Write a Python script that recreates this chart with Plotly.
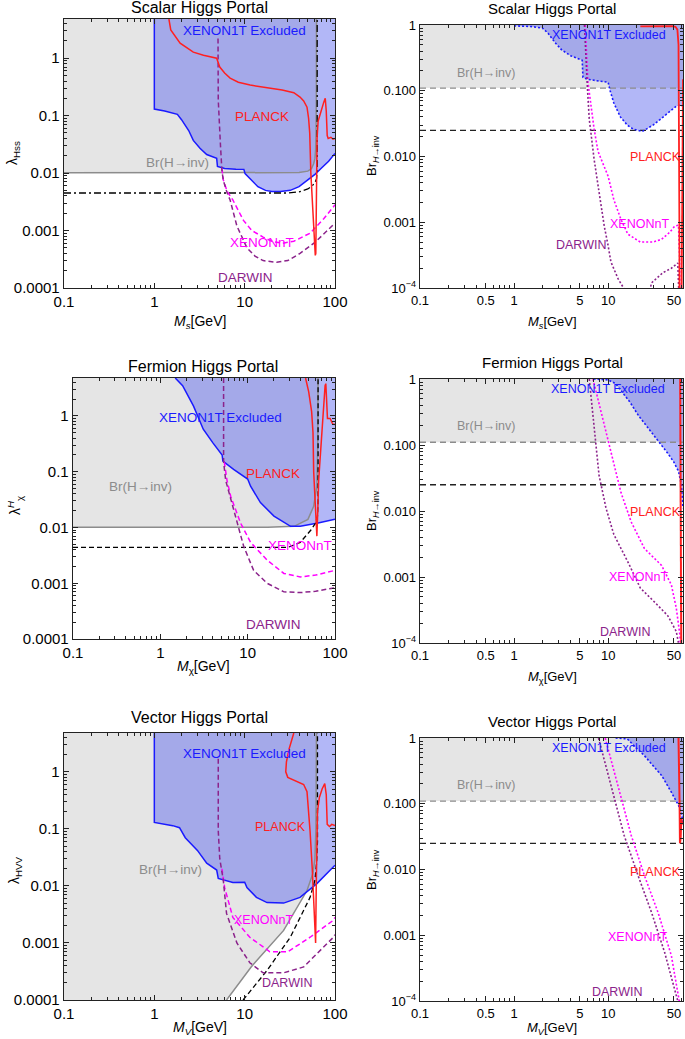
import numpy as np
import plotly.graph_objects as go

W, H = 685, 1039

# ---------------- Panel 1: Scalar, lambda_Hss vs M_s ----------------
s_gray_x = [0.1, 40, 50, 55, 58, 60, 61, 61.7, 62.2, 62.4]
s_gray_y = [0.0101, 0.0102, 0.0108, 0.012, 0.0145, 0.018, 0.025, 0.05, 0.3, 4.8]
s_x1t_x = [1, 1, 1.3, 1.6, 1.8, 2.0, 2.4, 2.7, 3.2, 3.8, 4.5, 4.9, 5.0, 6, 8, 9.8, 10.1, 11, 12,
           14, 17, 20, 25, 32, 40, 50, 60, 70, 85, 100]
s_x1t_y = [4.8, 0.13, 0.12, 0.11, 0.105, 0.085, 0.055, 0.037, 0.027, 0.021, 0.019, 0.018, 0.013,
           0.012, 0.0117, 0.0116, 0.0098, 0.0085, 0.0072, 0.0058, 0.005, 0.0048, 0.0048, 0.005,
           0.0058, 0.0075, 0.0095, 0.012, 0.016, 0.022]
s_planck_x = [1.45, 1.52, 1.93, 2.7, 3.5, 4.5, 4.9, 5.3, 6, 6.9, 8.5, 11.5, 18, 26, 35, 41, 45,
              49, 51, 52.5, 54, 57, 59, 60.5, 61.3, 62, 62.6, 63.3, 65, 70, 75, 78, 80, 82, 84,
              90, 95, 100]
s_planck_y = [4.8, 3.1, 1.82, 1.27, 1.12, 1.04, 1.0, 0.7, 0.55, 0.45, 0.38, 0.34, 0.31, 0.28,
              0.25, 0.21, 0.18, 0.14, 0.09, 0.05, 0.01, 0.0025, 0.0008, 0.00037, 0.0004, 0.002,
              0.01, 0.04, 0.08, 0.125, 0.17, 0.2, 0.12, 0.045, 0.04, 0.042, 0.039, 0.04]
s_dd_x = [0.1, 30, 40, 50, 56, 60, 62.5, 63.5, 63.5]
s_dd_y = [0.0045, 0.0045, 0.0047, 0.0053, 0.006, 0.0068, 0.008, 0.012, 4.8]
s_dar_x = [5.07, 5.1, 5.4, 5.6, 5.8, 6.4, 6.9, 8.2, 10.6, 13, 16, 22.6, 30, 41, 60, 100]
s_dar_y = [2.2, 0.19, 0.03, 0.011, 0.0075, 0.0045, 0.0034, 0.0012, 0.0005, 0.00036, 0.0003,
           0.00028, 0.0003, 0.0004, 0.00062, 0.00135]
s_xnt_x = [5.6, 5.8, 6.4, 7.4, 9.7, 12, 16, 20, 26, 35, 53, 75, 100]
s_xnt_y = [0.012, 0.0076, 0.0048, 0.0034, 0.0015, 0.001, 0.00077, 0.00065, 0.0006, 0.00065,
           0.0009, 0.0016, 0.0028]

# ---------------- Panel 2: Scalar, Br vs M_s ----------------
s2_x1t_x = [1, 1.5, 2, 2.3, 2.7, 3.2, 4, 5, 5.3, 5.4, 6, 8, 10, 10.5, 11.5, 13.5, 16, 18.5, 23,
            30, 37, 45, 53, 57, 62.5]
s2_x1t_y = [0.97, 0.95, 0.9, 0.75, 0.55, 0.42, 0.34, 0.3, 0.29, 0.16, 0.15, 0.14, 0.135, 0.1,
            0.065, 0.04, 0.03, 0.026, 0.024, 0.03, 0.038, 0.048, 0.058, 0.06, 0.058]
s2_planck_x = [22, 35, 48, 52, 54.5, 56, 56.8, 57.2, 57.4, None, 60.3, 60.7, 61.3, 62.0, 62.5]
s2_planck_y = [0.95, 0.96, 0.96, 0.94, 0.85, 0.5, 0.05, 0.001, 5e-5, None, 5e-5, 0.001, 0.02,
               0.1, 0.15]
s2_xnt_x = [5.7, 5.9, 6.1, 7.1, 7.8, 10, 11.5, 13.7, 16.2, 22, 30, 37, 45, 51, 56, 57.5, 58]
s2_xnt_y = [1, 0.3, 0.135, 0.026, 0.012, 0.005, 0.0022, 0.0011, 0.00066, 0.0005, 0.0005,
            0.00055, 0.0007, 0.00087, 0.0009, 0.0003, 5e-5]
s2_dar_x = [5.6, 5.8, 6.0, 6.3, 7.1, 8.0, 9.1, 10, 10.7, 12.7, 14.8, 16, None, 27, 29, 38, 47,
            55, 56.5, 57.2]
s2_dar_y = [1, 0.3, 0.12, 0.037, 0.009, 0.0029, 0.00087, 0.00044, 0.00025, 0.00014, 1e-4, 8e-5,
            None, 8e-5, 0.00012, 0.00017, 0.0002, 0.00024, 0.0001, 5e-5]

# ---------------- Panel 3: Fermion, lambda vs M_chi ----------------
f_gray_x = [0.1, 17, 34, 49, 57, 62, 63.5, 64]
f_gray_y = [0.0101, 0.0101, 0.0105, 0.014, 0.024, 0.055, 0.3, 4.8]
f_x1t_x = [1.48, 1.8, 2.4, 3.1, 4.0, 4.9, 5.1, 5.2, 6.9, 10, 10.8, 14, 20, 31, 40, 64, 100]
f_x1t_y = [4.8, 3.5, 1.5, 0.58, 0.33, 0.22, 0.2, 0.155, 0.11, 0.074, 0.055, 0.028, 0.016,
           0.0105, 0.0105, 0.012, 0.014]
f_dash_x = [0.1, 29, 40, 53, 60, 63, 64, 64]
f_dash_y = [0.0044, 0.0044, 0.0054, 0.009, 0.012, 0.016, 0.03, 4.8]
f_planck_x = [46, 50, 54, 56, 57, 59, 62, 63.5, 65, 68, 71, 74, 77, 78.5, 80, 82, 88, 94, 100]
f_planck_y = [4.8, 2.7, 1.2, 0.5, 0.1, 0.03, 0.007, 0.02, 0.07, 0.2, 0.6, 1.5, 3.5, 3.8, 1.5,
              0.9, 0.9, 0.72, 0.7]
f_dar_x = [5.3, 5.3, 5.6, 6.4, 6.9, 8.3, 9.0, 11.7, 16.7, 26, 40, 60, 100]
f_dar_y = [4.8, 0.15, 0.07, 0.032, 0.021, 0.0069, 0.0046, 0.0017, 0.001, 0.0007, 0.00068,
           0.00072, 0.00083]
f_xnt_x = [5.4, 5.8, 6.4, 8.3, 10.8, 16.7, 26, 40, 60, 100]
f_xnt_y = [0.15, 0.07, 0.036, 0.012, 0.0054, 0.0026, 0.0015, 0.0013, 0.0014, 0.0017]

# ---------------- Panel 4: Fermion, Br vs M_chi ----------------
f2_x1t_x = [7, 10, 12, 14, 17, 21, 26, 31, 37, 43, 50, 56, 60, 62.5]
f2_x1t_y = [1, 0.97, 0.85, 0.65, 0.45, 0.28, 0.19, 0.14, 0.1, 0.075, 0.055, 0.04, 0.025, 0.011]
f2_planck_x = [58.3, 59.2, 60]
f2_planck_y = [1, 0.01, 5e-5]
f2_xnt_x = [6.9, 9.1, 11.2, 13.7, 17.6, 24.3, 37, 47, 53, 58, 59]
f2_xnt_y = [1, 0.2, 0.063, 0.019, 0.0068, 0.0027, 0.0015, 0.00076, 0.00034, 0.00013, 5e-5]
f2_dar_x = [6.3, 7.1, 8.0, 9.5, 11.5, 16.2, 22, 31, 43, 53, 56, 57]
f2_dar_y = [1, 0.2, 0.035, 0.011, 0.0044, 0.0017, 0.00068, 0.00042, 0.00026, 0.00015, 1e-4, 5e-5]

# ---------------- Panel 5: Vector, lambda vs M_V ----------------
v_gray_x = [6.3, 11.8, 27, 49, 57, 60, 61.5, 62.3]
v_gray_y = [1e-4, 0.00038, 0.00166, 0.0083, 0.0166, 0.03, 0.1, 4.8]
v_x1t_x = [1, 1, 1.6, 1.9, 2.2, 3.0, 3.8, 4.9, 5.1, 7.4, 10, 10.6, 13.5, 17.7, 27, 41, 63, 100]
v_x1t_y = [4.8, 0.13, 0.114, 0.105, 0.07, 0.042, 0.025, 0.019, 0.0135, 0.0115, 0.0116, 0.0094,
           0.0063, 0.0051, 0.005, 0.0063, 0.011, 0.023]
v_dash_x = [9.6, 17.7, 32, 53, 60, 62.5, 64, 64]
v_dash_y = [1e-4, 0.00033, 0.00126, 0.0063, 0.0126, 0.025, 0.06, 4.8]
v_planck_x = [35, 31, 29, 28.5, 30, 36, 45, 49, 51, 53, 56, 60, 61, 62, 63, 64, 67, 72, 77, 80,
              82, 87, 92, 100]
v_planck_y = [4.8, 2.5, 1.5, 1.0, 0.8, 0.7, 0.6, 0.45, 0.2, 0.09, 0.02, 0.001, 0.001, 0.01, 0.09,
              0.2, 0.35, 0.5, 0.62, 0.4, 0.12, 0.11, 0.12, 0.115]
v_dar_x = [5.1, 5.1, 5.3, 5.8, 6.3, 8.2, 11.4, 16, 27, 45, 96, 100]
v_dar_y = [1.7, 0.093, 0.03, 0.0126, 0.0033, 0.001, 0.00045, 0.0003, 0.0003, 0.00038, 0.00126,
           0.0014]
v_xnt_x = [5.6, 6.0, 7.4, 11.4, 19, 30, 53, 96, 100]
v_xnt_y = [0.02, 0.0094, 0.0028, 0.00126, 0.0007, 0.0007, 0.00126, 0.0025, 0.0028]

# ---------------- Panel 6: Vector, Br vs M_V ----------------
v2_x1t_x = [12, 16, 20, 24, 30, 37, 47, 56, 60, 62.5]
v2_x1t_y = [1, 0.97, 0.7, 0.55, 0.38, 0.27, 0.15, 0.095, 0.07, 0.052]
v2_planck_x = [56, 57, 57.5, 58, 59, 60, 61, 62.5]
v2_planck_y = [1, 0.3, 0.1, 0.025, 0.03, 0.06, 0.05, 0.05]
v2_xnt_x = [9.3, 12.8, 17.6, 24.3, 34, 47, 57, 58]
v2_xnt_y = [1, 0.19, 0.033, 0.0081, 0.0022, 0.00049, 1e-4, 5e-5]
v2_dar_x = [7.9, 10.7, 14.8, 20.8, 29, 40, 51, 55, 56]
v2_dar_y = [1, 0.19, 0.033, 0.0081, 0.0022, 0.00054, 0.00015, 1e-4, 5e-5]

# Horizontal reference levels for Br panels
br_inv_limit = 0.11
br_future = 0.025

# ---------------- Styling ----------------
GRAY_FILL = "#e5e5e5"
BLUE_FILL = "rgba(85,95,238,0.45)"
BLUE = "#1a1aff"
RED = "#ff2020"
MAG = "#ff00ff"
PUR = "#8b238b"
GRAYL = "#8c8c8c"
FONT = "Liberation Sans, Arial, sans-serif"

LMAX = 4.8
RX_MAX = 62.5

def px(x):
    return x / W

def py(y):
    return 1 - y / H

panels = {
    1: dict(x=(64, 335), y=(19, 288), side="L"),
    2: dict(x=(420, 683), y=(25, 288), side="R"),
    3: dict(x=(73, 335), y=(378, 639), side="L"),
    4: dict(x=(420, 683), y=(379, 643), side="R"),
    5: dict(x=(64, 335), y=(733, 1000), side="L"),
    6: dict(x=(420, 683), y=(738, 1001), side="R"),
}

fig = go.Figure()

def ax(i):
    return ("x" if i == 1 else f"x{i}"), ("y" if i == 1 else f"y{i}")

def line(i, xs, ys, color, width=1.5, dash="solid"):
    xa, ya = ax(i)
    fig.add_trace(go.Scatter(x=xs, y=ys, mode="lines", xaxis=xa, yaxis=ya,
                             line=dict(color=color, width=width, dash=dash),
                             hoverinfo="skip", showlegend=False, connectgaps=False))

def fill(i, xs, ys, color):
    xa, ya = ax(i)
    fig.add_trace(go.Scatter(x=xs, y=ys, mode="lines", xaxis=xa, yaxis=ya, fill="toself",
                             fillcolor=color, line=dict(width=0, color=color),
                             hoverinfo="skip", showlegend=False))

DASH = "5px,3px"
DOT = "2px,2px"
DASHDOT = "7px,3px,2px,3px"

# Panel 1
fill(1, s_gray_x + [0.1], s_gray_y + [LMAX], GRAY_FILL)
fill(1, s_x1t_x + [100], s_x1t_y + [LMAX], BLUE_FILL)
line(1, s_gray_x, s_gray_y, GRAYL, 1.5)
line(1, s_x1t_x, s_x1t_y, BLUE, 1.5)
line(1, s_dd_x, s_dd_y, "black", 1.3, DASHDOT)
line(1, s_xnt_x, s_xnt_y, MAG, 1.5, DASH)
line(1, s_dar_x, s_dar_y, PUR, 1.5, DASH)
line(1, s_planck_x, s_planck_y, RED, 1.5)

# Panel 2
fill(2, [0.1, RX_MAX, RX_MAX, 0.1], [br_inv_limit, br_inv_limit, 1, 1], GRAY_FILL)
fill(2, s2_x1t_x + [RX_MAX, 1], s2_x1t_y + [1, 1], BLUE_FILL)
line(2, [0.1, RX_MAX], [br_inv_limit] * 2, GRAYL, 1.3, "6px,4px")
line(2, [0.1, RX_MAX], [br_future] * 2, "#222222", 1.3, "6px,4px")
line(2, s2_x1t_x, s2_x1t_y, BLUE, 1.6, DOT)
line(2, s2_xnt_x, s2_xnt_y, MAG, 1.6, DOT)
line(2, s2_dar_x, s2_dar_y, PUR, 1.6, DOT)
line(2, s2_planck_x, s2_planck_y, RED, 1.8)

# Panel 3
fill(3, f_gray_x + [0.1], f_gray_y + [LMAX], GRAY_FILL)
fill(3, f_x1t_x + [100], f_x1t_y + [LMAX], BLUE_FILL)
line(3, f_gray_x, f_gray_y, GRAYL, 1.5)
line(3, f_x1t_x, f_x1t_y, BLUE, 1.5)
line(3, f_dash_x, f_dash_y, "black", 1.3, DASH)
line(3, f_xnt_x, f_xnt_y, MAG, 1.5, DASH)
line(3, f_dar_x, f_dar_y, PUR, 1.5, DASH)
line(3, f_planck_x, f_planck_y, RED, 1.5)

# Panel 4
fill(4, [0.1, RX_MAX, RX_MAX, 0.1], [br_inv_limit, br_inv_limit, 1, 1], GRAY_FILL)
fill(4, f2_x1t_x + [RX_MAX], f2_x1t_y + [1], BLUE_FILL)
line(4, [0.1, RX_MAX], [br_inv_limit] * 2, GRAYL, 1.3, "6px,4px")
line(4, [0.1, RX_MAX], [br_future] * 2, "#222222", 1.3, "6px,4px")
line(4, f2_x1t_x, f2_x1t_y, BLUE, 1.6, DOT)
line(4, f2_xnt_x, f2_xnt_y, MAG, 1.6, DOT)
line(4, f2_dar_x, f2_dar_y, PUR, 1.6, DOT)
line(4, f2_planck_x, f2_planck_y, RED, 2.0)

# Panel 5
fill(5, [0.1] + v_gray_x + [0.1], [1e-4] + v_gray_y + [LMAX], GRAY_FILL)
fill(5, v_x1t_x + [100], v_x1t_y + [LMAX], BLUE_FILL)
line(5, v_gray_x, v_gray_y, GRAYL, 1.5)
line(5, v_x1t_x, v_x1t_y, BLUE, 1.5)
line(5, v_dash_x, v_dash_y, "black", 1.3, DASH)
line(5, v_xnt_x, v_xnt_y, MAG, 1.5, DASH)
line(5, v_dar_x, v_dar_y, PUR, 1.5, DASH)
line(5, v_planck_x, v_planck_y, RED, 1.5)

# Panel 6
fill(6, [0.1, RX_MAX, RX_MAX, 0.1], [br_inv_limit, br_inv_limit, 1, 1], GRAY_FILL)
fill(6, v2_x1t_x + [RX_MAX], v2_x1t_y + [1], BLUE_FILL)
line(6, [0.1, RX_MAX], [br_inv_limit] * 2, GRAYL, 1.3, "6px,4px")
line(6, [0.1, RX_MAX], [br_future] * 2, "#222222", 1.3, "6px,4px")
line(6, v2_x1t_x, v2_x1t_y, BLUE, 1.6, DOT)
line(6, v2_xnt_x, v2_xnt_y, MAG, 1.6, DOT)
line(6, v2_dar_x, v2_dar_y, PUR, 1.6, DOT)
line(6, v2_planck_x, v2_planck_y, RED, 2.0)

# ---------------- Axes ----------------
L_xt = [0.1, 1, 10, 100]
L_xtt = ["0.1", "1", "10", "100"]
L_yt = [1e-4, 1e-3, 1e-2, 0.1, 1]
L_ytt = ["0.0001", "0.001", "0.01", "0.1", "1"]
R_xt = [0.1, 0.5, 1, 5, 10, 50]
R_xtt = ["0.1", "0.5", "1", "5", "10", "50"]
R_yt = [1e-4, 1e-3, 1e-2, 0.1, 1]
R_ytt = ["10<sup>\u22124</sup>", "0.001", "0.010", "0.100", "1"]

layout = dict(template="none", width=W, height=H, margin=dict(l=0, r=0, t=0, b=0, pad=0),
              autosize=False,
              paper_bgcolor="white", plot_bgcolor="white", showlegend=False,
              font=dict(family=FONT, color="black"))

for i, p in panels.items():
    xk = "xaxis" if i == 1 else f"xaxis{i}"
    yk = "yaxis" if i == 1 else f"yaxis{i}"
    left = p["side"] == "L"
    fs = 15 if left else 13
    common = dict(type="log", showline=True, linecolor="#222", linewidth=1.3, mirror="allticks",
                  ticks="inside", ticklen=5, tickcolor="#222", showgrid=False, zeroline=False,
                  automargin=False,
                  tickfont=dict(size=fs, family=FONT, color="black"),
                  minor=dict(ticks="inside", ticklen=3, tickcolor="#222", dtick="D1", showgrid=False))
    layout[xk] = dict(common, domain=[px(p["x"][0]), px(p["x"][1])],
                      range=[-1, 2] if left else [-1, np.log10(RX_MAX)],
                      tickmode="array", tickvals=L_xt if left else R_xt,
                      ticktext=L_xtt if left else R_xtt,
                      anchor="y" if i == 1 else f"y{i}")
    layout[yk] = dict(common, domain=[py(p["y"][1]), py(p["y"][0])],
                      range=[-4, np.log10(LMAX)] if left else [-4, 0],
                      tickmode="array", tickvals=L_yt if left else R_yt,
                      ticktext=L_ytt if left else R_ytt,
                      anchor="x" if i == 1 else f"x{i}")

fig.update_layout(**layout)

# ---------------- Text ----------------
def txt(cx, cy, s, color="black", size=13, angle=0):
    fig.add_annotation(x=px(cx), y=py(cy), xref="paper", yref="paper", text=s, showarrow=False,
                       xanchor="center", yanchor="middle", textangle=angle,
                       font=dict(family=FONT, size=size, color=color))

titles = [(200, 8, "Scalar Higgs Portal", 16), (552, 9, "Scalar Higgs Portal", 15),
          (203, 366, "Fermion Higgs Portal", 16), (552, 363, "Fermion Higgs Portal", 15),
          (200, 717, "Vector Higgs Portal", 16), (552, 721, "Vector Higgs Portal", 15)]
for cx, cy, s, fsz in titles:
    txt(cx, cy, s, "black", fsz)

xtitles = [(200, 322, "<i>M</i><sub><i>s</i></sub>[GeV]", 14),
           (552, 322, "<i>M</i><sub><i>s</i></sub>[GeV]", 13),
           (203, 667, "<i>M</i><sub>\u03c7</sub>[GeV]", 14),
           (552, 677, "<i>M</i><sub>\u03c7</sub>[GeV]", 13),
           (200, 1028, "<i>M</i><sub><i>V</i></sub>[GeV]", 14),
           (552, 1028, "<i>M</i><sub><i>V</i></sub>[GeV]", 13)]
for cx, cy, s, fsz in xtitles:
    txt(cx, cy, s, "black", fsz)

ytitles = [(13, 153, "\u03bb<sub>Hss</sub>", 14),
           (372, 156, "Br<sub><i>H</i>\u2192inv</sub>", 13),
           (15, 505, "\u03bb<sup><i>H</i></sup><sub>\u03c7</sub>", 14),
           (372, 511, "Br<sub><i>H</i>\u2192inv</sub>", 13),
           (15, 870, "\u03bb<sub>HVV</sub>", 14),
           (372, 870, "Br<sub><i>H</i>\u2192inv</sub>", 13)]
for cx, cy, s, fsz in ytitles:
    txt(cx, cy, s, "black", fsz, -90)

labels = [
    # panel 1
    (244, 30, "XENON1T Excluded", BLUE, 13.5), (262, 116, "PLANCK", RED, 13.5),
    (177, 163, "Br(H\u2192inv)", GRAYL, 13.5), (262, 242, "XENONnT", MAG, 13.5),
    (245, 277, "DARWIN", PUR, 13.5),
    # panel 2
    (609, 35, "XENON1T Excluded", BLUE, 12.5), (486, 73, "Br(H\u2192inv)", GRAYL, 12.5),
    (655, 157, "PLANCK", RED, 12.5), (639, 224, "XENONnT", MAG, 12.5),
    (581, 245, "DARWIN", PUR, 12.5),
    # panel 3
    (220, 417, "XENON1T Excluded", BLUE, 13.5), (273, 473, "PLANCK", RED, 13.5),
    (140, 486, "Br(H\u2192inv)", GRAYL, 13.5), (300, 545, "XENONnT", MAG, 13.5),
    (273, 624, "DARWIN", PUR, 13.5),
    # panel 4
    (608, 389, "XENON1T Excluded", BLUE, 12.5), (486, 426, "Br(H\u2192inv)", GRAYL, 12.5),
    (655, 512, "PLANCK", RED, 12.5), (638, 577, "XENONnT", MAG, 12.5),
    (625, 632, "DARWIN", PUR, 12.5),
    # panel 5
    (244, 753, "XENON1T Excluded", BLUE, 13.5), (280, 827, "PLANCK", RED, 12.5),
    (170, 869, "Br(H\u2192inv)", GRAYL, 13.5), (263, 920, "XENONnT", MAG, 12.5),
    (287, 983, "DARWIN", PUR, 12.5),
    # panel 6
    (609, 748, "XENON1T Excluded", BLUE, 12.5), (486, 785, "Br(H\u2192inv)", GRAYL, 12.5),
    (655, 872, "PLANCK", RED, 12.5), (637, 937, "XENONnT", MAG, 12.5),
    (617, 992, "DARWIN", PUR, 12.5),
]
for cx, cy, s, c, fsz in labels:
    txt(cx, cy, s, c, fsz)

fig.write_html("out.html", config={"displayModeBar": False, "staticPlot": True},
               post_script="document.body.style.margin='0';document.body.style.overflow='hidden';")
